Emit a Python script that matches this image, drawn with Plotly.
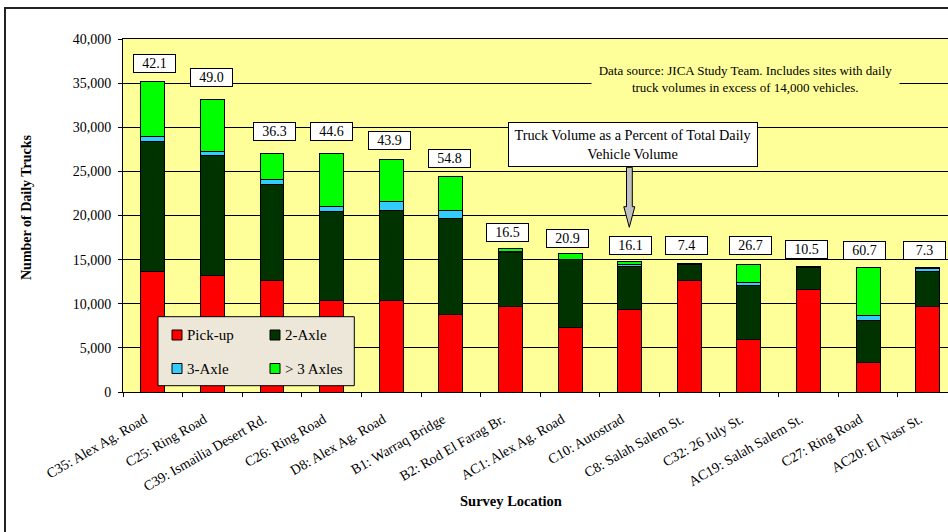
import plotly.graph_objects as go

# Survey sites and daily truck counts by vehicle class
sites = [
    "C35: Alex Ag. Road", "C25: Ring Road", "C39: Ismailia Desert Rd.",
    "C26: Ring Road", "D8: Alex Ag. Road", "B1: Warraq Bridge",
    "B2: Rod El Farag Br.", "AC1: Alex Ag. Road", "C10: Autostrad",
    "C8: Salah Salem St.", "C32: 26 July St.", "AC19: Salah Salem St.",
    "C27: Ring Road", "AC20: El Nasr St.",
]
pickup = [13700, 13200, 12600, 10400, 10400, 8800, 9650, 7300, 9300, 12650, 6000, 11650, 3300, 9650]
axle2 = [14700, 13600, 10900, 10100, 10200, 10900, 6200, 7700, 4900, 1850, 6100, 2450, 4850, 4050]
axle3 = [550, 500, 550, 500, 950, 850, 100, 50, 300, 0, 350, 50, 550, 250]
axle4p = [6250, 5900, 2950, 6000, 4850, 3900, 300, 650, 300, 50, 2000, 100, 5450, 150]

# Trucks as a percent of total daily vehicle volume
truck_pct = [42.1, 49.0, 36.3, 44.6, 43.9, 54.8, 16.5, 20.9, 16.1, 7.4, 26.7, 10.5, 60.7, 7.3]

series_names = ["Pick-up", "2-Axle", "3-Axle", "> 3 Axles"]
series_values = [pickup, axle2, axle3, axle4p]
series_colors = ["#FF0000", "#003300", "#33CCFF", "#00FF00"]

# placement of the percent boxes above each bar (value units / pixels)
label_lift = [2050, 2490, 2570, 2570, 2140, 2050, 1860, 1750, 1800, 2050, 2190, 1880, 1890, 1930]
label_nudge = [2, -1, 2, 0, -2, -1, -3, -3, 1, -3, 2, -2, -4, -3]

W, H = 948, 532
L, R, T, B = 123, 948, 39, 392
SERIF = "Liberation Serif, Times New Roman, serif"


def px(x):
    return (x - L) / (R - L)


def py(y):
    return (B - y) / (B - T)


fig = go.Figure()
for name, vals, col in zip(series_names, series_values, series_colors):
    fig.add_trace(go.Bar(
        x=sites, y=vals, name=name,
        marker=dict(color=col, line=dict(color="#000000", width=1)),
        showlegend=False,
    ))

totals = [sum(v) for v in zip(*series_values)]

annotations = []
for site, tot, pct, lift, nudge in zip(sites, totals, truck_pct, label_lift, label_nudge):
    annotations.append(dict(
        x=site, y=tot + lift, xref="x", yref="y",
        text=f"{pct:.1f}", showarrow=False,
        xshift=nudge, xanchor="center", yanchor="middle",
        font=dict(family=SERIF, size=14, color="#000000"),
        bgcolor="#FFFFFF", bordercolor="#000000", borderwidth=1,
        width=39, height=15, borderpad=1,
    ))

annotations.append(dict(
    x=px(745), y=py(79), xref="paper", yref="paper",
    xanchor="center", yanchor="middle",
    text="Data source: JICA Study Team. Includes sites with daily<br>truck volumes in excess of 14,000 vehicles.",
    showarrow=False, align="center",
    font=dict(family=SERIF, size=13, color="#000000"),
    bgcolor="#FFFF99", width=303, borderpad=2,
))

annotations.append(dict(
    x=px(633), y=py(144.8), xref="paper", yref="paper",
    xanchor="center", yanchor="middle",
    text="Truck Volume as a Percent of Total Daily<br>Vehicle Volume",
    showarrow=False, align="center",
    font=dict(family=SERIF, size=14.3, color="#000000"),
    bgcolor="#FFFFFF", bordercolor="#000000", borderwidth=1,
    width=244, height=39, borderpad=2,
))

annotations.append(dict(
    x=px(26), y=py(207), xref="paper", yref="paper",
    xanchor="center", yanchor="middle",
    text="<b>Number of Daily Trucks</b>", textangle=-90, showarrow=False,
    font=dict(family=SERIF, size=14, color="#000000"),
))
annotations.append(dict(
    x=px(511), y=py(501.5), xref="paper", yref="paper",
    xanchor="center", yanchor="middle",
    text="<b>Survey Location</b>", showarrow=False,
    font=dict(family=SERIF, size=14.5, color="#000000"),
))

shapes = []
# outer chart frame
shapes.append(dict(
    type="rect", xref="paper", yref="paper",
    x0=px(5), y0=py(8), x1=px(1100), y1=py(700),
    line=dict(color="#222222", width=2), fillcolor="rgba(0,0,0,0)", layer="above",
))

# pointer from the callout box down to the percent labels
sx0, sx1, hx0, hx1, cx = 626.5, 632.3, 623.8, 634.8, 629.3
ytop, yneck, ytip = 167.3, 206.7, 227.3
arrow = (
    f"M {px(sx0)},{py(ytop)} L {px(sx1)},{py(ytop)} L {px(sx1)},{py(yneck)} "
    f"L {px(hx1)},{py(yneck)} L {px(cx)},{py(ytip)} L {px(hx0)},{py(yneck)} "
    f"L {px(sx0)},{py(yneck)} Z"
)
shapes.append(dict(
    type="path", xref="paper", yref="paper", path=arrow,
    fillcolor="#C0C0C0", line=dict(color="#000000", width=1), layer="above",
))

# legend box
shapes.append(dict(
    type="rect", xref="paper", yref="paper",
    x0=px(158), y0=py(316.7), x1=px(354.3), y1=py(385.7),
    fillcolor="#EDE7D9", line=dict(color="#000000", width=1), layer="above",
))
legend_slots = [(172, 335), (270, 335), (172, 368.5), (270, 368.5)]
for (lx, ly), name, col in zip(legend_slots, series_names, series_colors):
    shapes.append(dict(
        type="rect", xref="paper", yref="paper",
        x0=px(lx), y0=py(ly - 5), x1=px(lx + 10), y1=py(ly + 5),
        fillcolor=col, line=dict(color="#000000", width=1), layer="above",
    ))
    annotations.append(dict(
        x=px(lx + 13), y=py(ly), xref="paper", yref="paper",
        text=name, showarrow=False, xanchor="left", yanchor="middle",
        font=dict(family=SERIF, size=15, color="#000000"),
    ))

fig.update_layout(
    width=W, height=H,
    margin=dict(l=L, r=W - R, t=T, b=H - B, pad=0),
    paper_bgcolor="#FFFFFF", plot_bgcolor="#FFFF99",
    barmode="stack", bargap=0.6,
    font=dict(family=SERIF, size=14, color="#000000"),
    annotations=annotations, shapes=shapes,
    showlegend=False,
)
fig.update_xaxes(
    type="category", range=[-0.5, 13.34],
    tickson="boundaries", ticks="outside", ticklen=4, tickcolor="#000000",
    tickangle=-30, ticklabelstandoff=13, ticklabelshift=-8,
    tickfont=dict(family=SERIF, size=14, color="#000000"),
    showline=True, linecolor="#000000", linewidth=1, mirror=True,
    showgrid=False,
)
fig.update_yaxes(
    range=[0, 40000], dtick=5000, tickformat=",",
    ticks="outside", ticklen=4, tickcolor="#000000",
    ticklabelstandoff=4,
    tickfont=dict(family=SERIF, size=14, color="#000000"),
    showline=True, linecolor="#000000", linewidth=1,
    showgrid=True, gridcolor="#000000", gridwidth=1,
    zeroline=False,
)

fig.write_html("out.html")
